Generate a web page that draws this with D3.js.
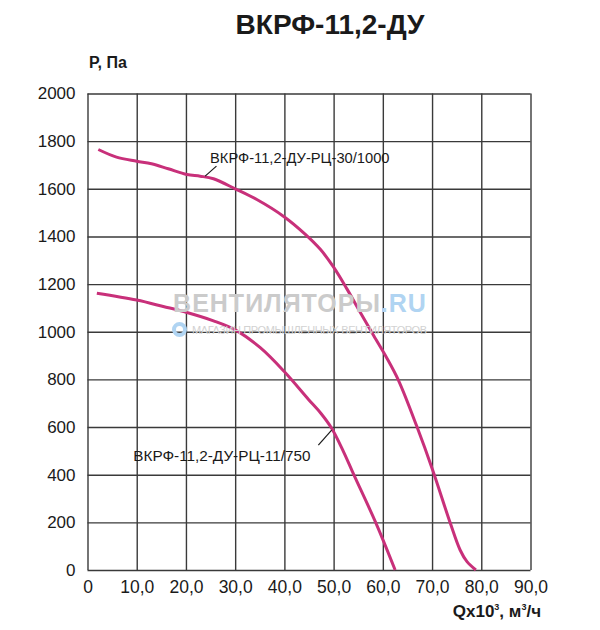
<!DOCTYPE html>
<html>
<head>
<meta charset="utf-8">
<script src="https://cdn.jsdelivr.net/npm/d3@7"></script>
<style>
  body { margin: 0; background: #fff; }
  text { font-family: "Liberation Sans", Arial, sans-serif; }
</style>
</head>
<body>
<script>
// curve data (Q in thousands m3/h, P in Pa)
var q1000 = [2.2, 5.9, 10, 13, 16.4, 20.2, 22.9, 25.6, 30, 34.4, 40, 44.2, 47.3, 50, 52.7, 55.4, 58.1, 60.8, 63.2, 66.9, 70.1, 73.7, 75.7, 77.1, 78.9];
var p1000 = [1765, 1733, 1716, 1705, 1684, 1660, 1653, 1642, 1600, 1555, 1482, 1410, 1346, 1271, 1180, 1082, 985, 890, 795, 603, 421, 197, 84, 35, 0];
var q750 = [1.9, 10, 15.4, 20.2, 25.6, 30, 35.1, 40.1, 44.9, 47.4, 49.6, 52, 54.1, 58.6, 62.5];
var p750 = [1162, 1133, 1106, 1081, 1046, 1008, 933, 830, 716, 658, 595, 497, 400, 197, 0];

var xTicks = [0, 10, 20, 30, 40, 50, 60, 70, 80, 90];
var xTickLabels = ["0", "10,0", "20,0", "30,0", "40,0", "50,0", "60,0", "70,0", "80,0", "90,0"];
var yTicks = [0, 200, 400, 600, 800, 1000, 1200, 1400, 1600, 1800, 2000];

var title = "ВКРФ-11,2-ДУ";
var label1000 = "ВКРФ-11,2-ДУ-РЦ-30/1000";
var label750 = "ВКРФ-11,2-ДУ-РЦ-11/750";

// set the dimensions and margins of the graph
var margin = {top: 93.5, right: 69.5, bottom: 60, left: 87.5},
    width = 600 - margin.left - margin.right,
    height = 630 - margin.top - margin.bottom;

var x = d3.scaleLinear().domain([0, 90]).range([0, width]);
var y = d3.scaleLinear().domain([0, 2000]).range([height, 0]);

var svg = d3.select("body").append("svg")
    .attr("width", 600)
    .attr("height", 630);

var g = svg.append("g")
    .attr("transform", "translate(" + margin.left + "," + margin.top + ")");

// title
svg.append("text")
    .attr("x", 330)
    .attr("y", 33.5)
    .attr("text-anchor", "middle")
    .style("font-size", "28px")
    .style("font-weight", "bold")
    .attr("fill", "#1a1a1a")
    .text(title);

// axis titles
svg.append("text")
    .attr("x", 89)
    .attr("y", 67.5)
    .style("font-size", "16px")
    .style("font-weight", "bold")
    .attr("fill", "#1a1a1a")
    .text("P, Па");

var qt = svg.append("text")
    .attr("x", 541)
    .attr("y", 617)
    .attr("text-anchor", "end")
    .style("font-size", "17px")
    .style("font-weight", "bold")
    .attr("fill", "#1a1a1a");
qt.append("tspan").text("Qx10");
qt.append("tspan").attr("dy", -7).style("font-size", "9px").text("3");
qt.append("tspan").attr("dy", 7).text(", м");
qt.append("tspan").attr("dy", -7).style("font-size", "9px").text("3");
qt.append("tspan").attr("dy", 7).text("/ч");

// watermark
var wm = svg.append("text")
    .attr("x", 300)
    .attr("y", 312)
    .attr("text-anchor", "middle")
    .style("font-size", "25px")
    .style("font-weight", "bold")
    .style("letter-spacing", "1px");
wm.append("tspan").attr("fill", "#cbcbcb").text("ВЕНТИЛЯТОРЫ");
wm.append("tspan").attr("fill", "#b0d4f2").text(".RU");

svg.append("circle")
    .attr("cx", 179.5)
    .attr("cy", 329.5)
    .attr("r", 5.5)
    .attr("fill", "none")
    .attr("stroke", "#b0d4f2")
    .attr("stroke-width", 4);

svg.append("text")
    .attr("x", 192)
    .attr("y", 334)
    .attr("textLength", 235)
    .attr("lengthAdjust", "spacing")
    .style("font-size", "11px")
    .attr("fill", "#d2d2d2")
    .text("МАГАЗИН ПРОМЫШЛЕННЫХ ВЕНТИЛЯТОРОВ");

// gridlines
g.append("g")
    .attr("transform", "translate(0," + height + ")")
    .call(d3.axisBottom(x).tickValues(xTicks).tickSize(-height).tickPadding(11)
        .tickFormat(function(d, i) { return xTickLabels[i]; }))
    .call(function(a) {
        a.select(".domain").remove();
        a.selectAll("line").attr("stroke", "#3a3a3a").attr("stroke-width", 1.4);
        a.selectAll("text").style("font-size", "17.5px").attr("fill", "#1a1a1a");
    });

g.append("g")
    .call(d3.axisLeft(y).tickValues(yTicks).tickSize(-width).tickPadding(12)
        .tickFormat(d3.format("d")))
    .call(function(a) {
        a.select(".domain").remove();
        a.selectAll("line").attr("stroke", "#3a3a3a").attr("stroke-width", 1.4);
        a.selectAll("text").style("font-size", "17px").attr("fill", "#1a1a1a");
    });

// the two curves
var line = d3.line()
    .x(function(d) { return x(d[0]); })
    .y(function(d) { return y(d[1]); })
    .curve(d3.curveCatmullRom.alpha(0.5));

var data1000 = q1000.map(function(q, i) { return [q, p1000[i]]; });
var data750 = q750.map(function(q, i) { return [q, p750[i]]; });

[data1000, data750].forEach(function(d) {
    g.append("path")
        .datum(d)
        .attr("fill", "none")
        .attr("stroke", "#c8307a")
        .attr("stroke-width", 3)
        .attr("d", line);
});

// labels with leader lines
g.append("line")
    .attr("x1", x(23.9)).attr("y1", y(1653))
    .attr("x2", x(26.2)).attr("y2", y(1695))
    .attr("stroke", "#1a1a1a").attr("stroke-width", 1.2);
g.append("text")
    .attr("x", x(24.9))
    .attr("y", y(1709))
    .style("font-size", "14.7px")
    .attr("fill", "#1a1a1a")
    .text(label1000);

g.append("line")
    .attr("x1", x(49.6)).attr("y1", y(587))
    .attr("x2", x(46.9)).attr("y2", y(524))
    .attr("stroke", "#1a1a1a").attr("stroke-width", 1.2);
g.append("text")
    .attr("x", x(9.3))
    .attr("y", y(458))
    .style("font-size", "15.3px")
    .attr("fill", "#1a1a1a")
    .text(label750);
</script>
</body>
</html>
